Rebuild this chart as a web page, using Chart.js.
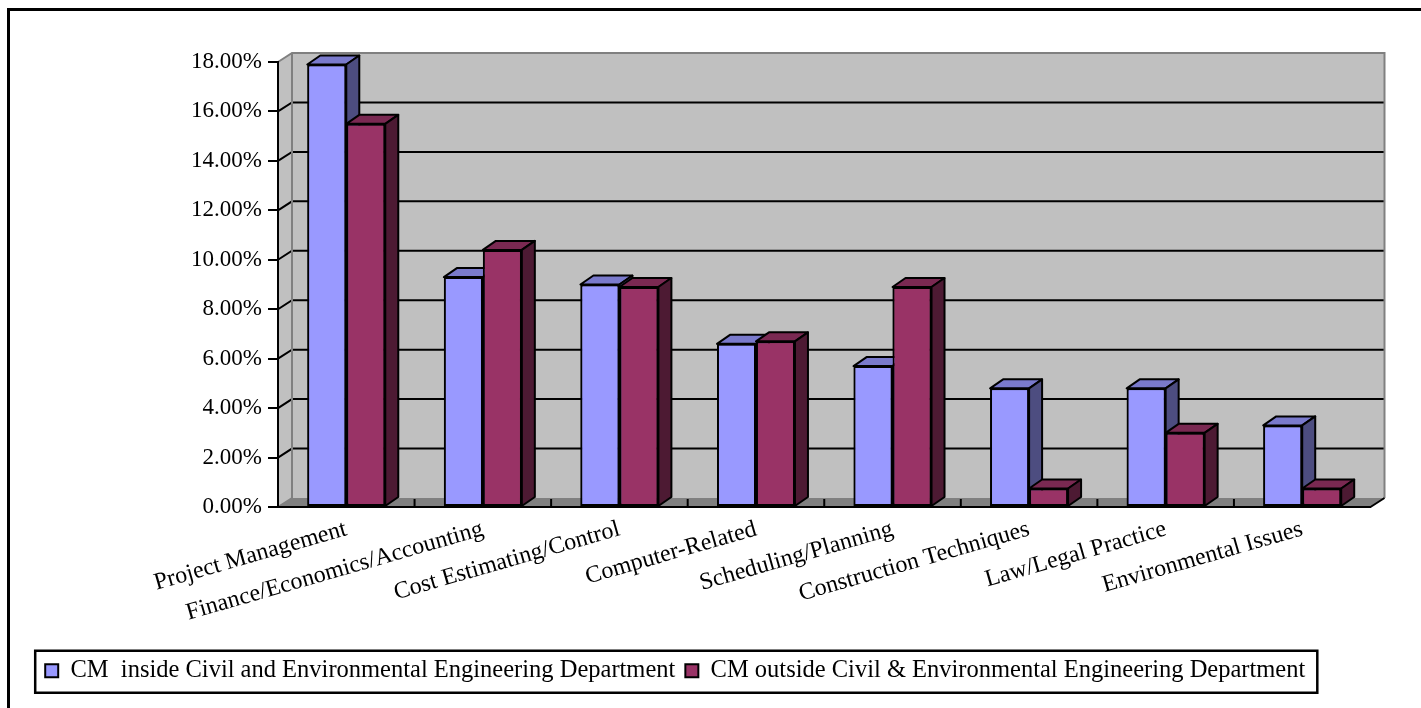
<!DOCTYPE html>
<html>
<head>
<meta charset="utf-8">
<script src="https://cdn.jsdelivr.net/npm/chart.js@4.4.0/dist/chart.umd.min.js"></script>
<style>
  html, body { margin: 0; padding: 0; background: #fff; }
  #cm_plot_container { position: relative; width: 1421px; height: 708px; }
</style>
</head>
<body>
<div id="cm_plot_container"><canvas id="cm_plot"></canvas></div>
<script>
// categories and values (percent)
const LABELS = [
    'Project Management',
    'Finance/Economics/Accounting',
    'Cost Estimating/Control',
    'Computer-Related',
    'Scheduling/Planning',
    'Construction Techniques',
    'Law/Legal Practice',
    'Environmental Issues'
];
const INSIDE_VALUES = [17.9, 9.3, 9.0, 6.6, 5.7, 4.8, 4.8, 3.3];
const OUTSIDE_VALUES = [15.5, 10.4, 8.9, 6.7, 8.9, 0.75, 3.0, 0.75];
const SERIES_NAMES = [
    'CM  inside Civil and Environmental Engineering Department',
    'CM outside Civil & Environmental Engineering Department'
];
const Y_MIN = 0, Y_MAX = 18, Y_STEP = 2;

// 3d look
const WALL_DX = 14, WALL_DY = -9;
const BAR_DX = 13, BAR_DY = -9;
const FACE_COLORS = [
    { front: '#9999ff', top: '#7a7acc', side: '#4d4d80' },
    { front: '#993366', top: '#7a2952', side: '#4d1a33' }
];

function poly(ctx, pts) {
    ctx.beginPath();
    ctx.moveTo(pts[0][0], pts[0][1]);
    for (let i = 1; i < pts.length; i++) ctx.lineTo(pts[i][0], pts[i][1]);
    ctx.closePath();
}

const box3d = {
    id: 'box3d',
    afterLayout(chart) {
        // legend sits a little left of centre in the original
        chart.legend.left -= 10;
        chart.legend.right -= 10;
    },
    beforeDraw(chart) {
        const ctx = chart.ctx, a = chart.chartArea;
        const xs = chart.scales.x, ys = chart.scales.y;
        ctx.save();
        // outer frame
        ctx.strokeStyle = '#000';
        ctx.lineWidth = 3;
        ctx.strokeRect(8.5, 9.5, 1500, 800);

        // back wall
        ctx.fillStyle = '#c0c0c0';
        ctx.fillRect(a.left + WALL_DX, a.top + WALL_DY, a.right - a.left, a.bottom - a.top);
        // side wall
        poly(ctx, [[a.left, a.bottom], [a.left, a.top], [a.left + WALL_DX, a.top + WALL_DY], [a.left + WALL_DX, a.bottom + WALL_DY]]);
        ctx.fill();
        // floor
        ctx.fillStyle = '#808080';
        poly(ctx, [[a.left, a.bottom], [a.right, a.bottom], [a.right + WALL_DX, a.bottom + WALL_DY], [a.left + WALL_DX, a.bottom + WALL_DY]]);
        ctx.fill();

        // gridlines on the walls
        ctx.strokeStyle = '#000';
        ctx.lineWidth = 2;
        ys.ticks.forEach(t => {
            if (t.value <= Y_MIN || t.value >= Y_MAX) return;
            const py = ys.getPixelForValue(t.value);
            ctx.beginPath();
            ctx.moveTo(a.left, py);
            ctx.lineTo(a.left + WALL_DX, py + WALL_DY);
            ctx.lineTo(a.right + WALL_DX, py + WALL_DY);
            ctx.stroke();
        });

        // wall edges
        ctx.strokeStyle = '#808080';
        ctx.lineWidth = 2;
        ctx.beginPath();
        ctx.moveTo(a.left, a.top);
        ctx.lineTo(a.left + WALL_DX, a.top + WALL_DY);
        ctx.lineTo(a.right + WALL_DX, a.top + WALL_DY);
        ctx.lineTo(a.right + WALL_DX, a.bottom + WALL_DY);
        ctx.moveTo(a.left + WALL_DX, a.top + WALL_DY);
        ctx.lineTo(a.left + WALL_DX, a.bottom + WALL_DY);
        ctx.lineTo(a.left, a.bottom);
        ctx.stroke();

        // floor right edge + tick marks between categories
        ctx.strokeStyle = '#000';
        ctx.beginPath();
        ctx.moveTo(a.right, a.bottom);
        ctx.lineTo(a.right + WALL_DX, a.bottom + WALL_DY);
        for (let i = 0; i < LABELS.length - 1; i++) {
            const px = xs.getPixelForValue(i + 0.5);
            ctx.moveTo(px, a.bottom);
            ctx.lineTo(px, a.bottom - 8);
        }
        ctx.stroke();
        ctx.restore();
    },
    afterDatasetsDraw(chart) {
        const ctx = chart.ctx;
        ctx.save();
        chart.data.datasets.forEach((ds, di) => {
            const meta = chart.getDatasetMeta(di);
            const c = FACE_COLORS[di];
            meta.data.forEach(bar => {
                bar.draw(ctx);
                const p = bar.getProps(['x', 'y', 'base', 'width']);
                const l = p.x - p.width / 2, r = p.x + p.width / 2;
                ctx.lineWidth = 2;
                ctx.lineJoin = 'round';
                ctx.strokeStyle = '#000';
                ctx.fillStyle = c.top;
                poly(ctx, [[l, p.y], [r, p.y], [r + BAR_DX, p.y + BAR_DY], [l + BAR_DX, p.y + BAR_DY]]);
                ctx.fill(); ctx.stroke();
                ctx.fillStyle = c.side;
                poly(ctx, [[r, p.y], [r + BAR_DX, p.y + BAR_DY], [r + BAR_DX, p.base + BAR_DY], [r, p.base]]);
                ctx.fill(); ctx.stroke();
            });
        });
        ctx.restore();
    },
    afterDraw(chart) {
        // frame round the legend
        const hb = chart.legend.legendHitBoxes;
        if (!hb || !hb.length) return;
        const first = hb[0], last = hb[hb.length - 1];
        const cy = first.top + first.height / 2;
        const ctx = chart.ctx;
        ctx.save();
        ctx.strokeStyle = '#000';
        ctx.lineWidth = 2.5;
        ctx.strokeRect(first.left - 10, cy - 20, last.left + last.width - first.left + 22, 42);
        ctx.restore();
    }
};

function plotCM() {
    Chart.defaults.font.family = "'Liberation Serif', 'Times New Roman', serif";
    Chart.defaults.color = '#000';
    let ctx = document.getElementById('cm_plot');
    window.cm_plot = new Chart(ctx, {
        type: 'bar',
        data: {
            labels: LABELS,
            datasets: [{
                label: SERIES_NAMES[0],
                data: INSIDE_VALUES,
                backgroundColor: FACE_COLORS[0].front,
                borderColor: '#000',
                borderWidth: 2,
                borderSkipped: false
            }, {
                label: SERIES_NAMES[1],
                data: OUTSIDE_VALUES,
                backgroundColor: FACE_COLORS[1].front,
                borderColor: '#000',
                borderWidth: 2,
                borderSkipped: false
            }]
        },
        options: {
            responsive: true,
            maintainAspectRatio: false,
            animation: false,
            categoryPercentage: 0.571,
            barPercentage: 1.0,
            layout: {
                padding: { top: 62, left: 0, right: 50.5, bottom: 15 }
            },
            plugins: {
                legend: {
                    position: 'bottom',
                    labels: {
                        boxWidth: 13,
                        boxHeight: 13,
                        padding: 10,
                        font: { size: 24.5 }
                    }
                },
                tooltip: { enabled: false }
            },
            scales: {
                x: {
                    offset: true,
                    grid: { display: false, drawTicks: false },
                    border: { display: true, color: '#000', width: 2 },
                    ticks: {
                        autoSkip: false,
                        minRotation: 16,
                        maxRotation: 16,
                        padding: 8,
                        font: { size: 24 }
                    },
                    afterFit: scale => { scale.height = 141.5; }
                },
                y: {
                    min: Y_MIN,
                    max: Y_MAX,
                    grid: {
                        drawOnChartArea: false,
                        drawTicks: true,
                        tickLength: 10,
                        color: '#000',
                        lineWidth: 2
                    },
                    border: { display: true, color: '#000', width: 2 },
                    ticks: {
                        stepSize: Y_STEP,
                        padding: 6,
                        font: { size: 23 },
                        callback: v => v.toFixed(2) + '%'
                    },
                    afterFit: scale => { scale.width = 278; }
                }
            }
        },
        plugins: [box3d]
    });
}

plotCM();
</script>
</body>
</html>
